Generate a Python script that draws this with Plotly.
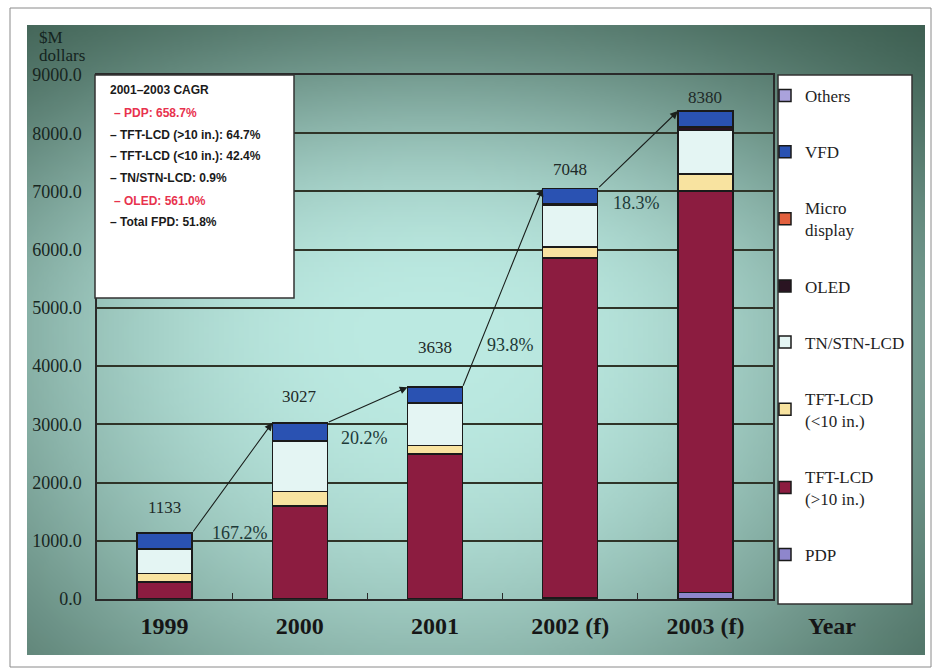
import zlib
import struct
import base64
import numpy as np
import plotly.graph_objects as go

# ---------------- data ----------------
years = ["1999", "2000", "2001", "2002 (f)", "2003 (f)"]
pdp = [0, 0, 2, 15, 110]
tft_large = [290, 1600, 2490, 5840, 6900]
tft_small = [150, 250, 145, 190, 290]
tn_stn = [420, 860, 730, 720, 743]
oled = [0, 0, 3, 30, 60]
micro = [0, 0, 0, 0, 0]
vfd = [273, 317, 268, 253, 277]
others = [0, 0, 0, 0, 0]
totals = [1133, 3027, 3638, 7048, 8380]
growth = ["167.2%", "20.2%", "93.8%", "18.3%"]
cagr_title = "2001–2003 CAGR"
cagr_lines = [
    "– PDP: 658.7%",
    "– TFT-LCD (&gt;10 in.): 64.7%",
    "– TFT-LCD (&lt;10 in.): 42.4%",
    "– TN/STN-LCD: 0.9%",
    "– OLED: 561.0%",
    "– Total FPD: 51.8%",
]
cagr_highlight = [True, False, False, False, True, False]

# ---------------- geometry helpers (pixel -> paper) ----------------
W, H = 938, 672
L, R, T, B = 97, 773, 75, 599


def px(x):
    return (x - L) / (R - L)


def py(y):
    return (B - y) / (B - T)


# ---------------- background gradient image ----------------
def png_data_uri(rgb):
    h, w, _ = rgb.shape
    raw = b"".join(b"\x00" + rgb[r].tobytes() for r in range(h))

    def chunk(tag, data):
        c = struct.pack(">I", len(data)) + tag + data
        return c + struct.pack(">I", zlib.crc32(tag + data) & 0xFFFFFFFF)

    png = (b"\x89PNG\r\n\x1a\n"
           + chunk(b"IHDR", struct.pack(">IIBBBBB", w, h, 8, 2, 0, 0, 0))
           + chunk(b"IDAT", zlib.compress(raw, 9))
           + chunk(b"IEND", b""))
    return "data:image/png;base64," + base64.b64encode(png).decode()


PX0, PY0, PX1, PY1 = 27, 25, 925, 655
gw, gh = 180, 126
xs = PX0 + (np.arange(gw) + 0.5) * (PX1 - PX0) / gw
ys = PY0 + (np.arange(gh) + 0.5) * (PY1 - PY0) / gh
XX, YY = np.meshgrid(xs, ys)
ry = np.where(YY < 330, 290, 470)
r2 = ((XX - 430) / 540) ** 2 + ((YY - 330) / ry) ** 2
t = np.exp(-(r2 ** 1.3))
dark = np.array([50, 82, 68], dtype=float)
light = np.array([188, 234, 226], dtype=float)
img = dark[None, None, :] + t[..., None] * (light - dark)[None, None, :]
img = np.clip(img, 0, 255).astype(np.uint8)
bg_uri = png_data_uri(img)

# ---------------- traces ----------------
series = [
    ("PDP", pdp, "#8e86cc"),
    ("TFT-LCD<br>(&gt;10 in.)", tft_large, "#8c1c40"),
    ("TFT-LCD<br>(&lt;10 in.)", tft_small, "#f8e3a0"),
    ("TN/STN-LCD", tn_stn, "#e4f5f3"),
    ("OLED", oled, "#2a1422"),
    ("Micro<br>display", micro, "#e2603e"),
    ("VFD", vfd, "#2a52b2"),
    ("Others", others, "#aaa2dc"),
]

fig = go.Figure()
n = len(series)
for i, (name, vals, col) in enumerate(series):
    fig.add_trace(go.Bar(
        x=years, y=vals, name=name, legendgroup=f"g{i}", legendrank=n - i,
        marker=dict(color=col, line=dict(color="#1a1a1a", width=1.5)),
    ))

bargap = 0.593
hw = (1 - bargap) / 2

annotations = []
# total labels
label_shift = [26, 26, 40, 19, 14]
for i, tot in enumerate(totals):
    annotations.append(dict(
        x=i, y=tot, xref="x", yref="y", text=str(tot), showarrow=False,
        yshift=label_shift[i], yanchor="middle",
        font=dict(family="Liberation Serif", size=17, color="#1e2a28"),
    ))
# growth arrows
for i in range(len(totals) - 1):
    annotations.append(dict(
        x=i + 1 - hw, y=totals[i + 1], xref="x", yref="y",
        ax=i + hw, ay=totals[i], axref="x", ayref="y",
        text="", showarrow=True, arrowhead=2, arrowsize=1.4,
        arrowwidth=1.1, arrowcolor="#1a1f1c", standoff=0,
    ))
# growth labels
growth_pos = [(0.558, 1134), (1.482, 2765), (2.555, 4363), (3.487, 6802)]
for g, (gx, gy) in zip(growth, growth_pos):
    annotations.append(dict(
        x=gx, y=gy, xref="x", yref="y", text=g, showarrow=False,
        font=dict(family="Liberation Serif", size=18, color="#1d3a38"),
    ))
# CAGR box text
cagr_y = [113, 135, 156, 178, 201, 222]
annotations.append(dict(
    x=px(108), y=py(90), xref="paper", yref="paper", text=cagr_title,
    showarrow=False, xanchor="left", yanchor="middle",
    font=dict(family="Liberation Sans", size=12, color="#1a1a1a", weight="bold"),
))
for line, yy, hi in zip(cagr_lines, cagr_y, cagr_highlight):
    annotations.append(dict(
        x=px(112 if hi else 108), y=py(yy), xref="paper", yref="paper", text=line,
        showarrow=False, xanchor="left", yanchor="middle",
        font=dict(family="Liberation Sans", size=12,
                  color="#e8324e" if hi else "#1a1a1a", weight="bold"),
    ))
# y-axis unit label
annotations.append(dict(
    x=px(37), y=py(38), xref="paper", yref="paper", text="$M", showarrow=False,
    xanchor="left", yanchor="middle",
    font=dict(family="Liberation Serif", size=17, color="#142420"),
))
annotations.append(dict(
    x=px(37), y=py(56), xref="paper", yref="paper", text="dollars", showarrow=False,
    xanchor="left", yanchor="middle",
    font=dict(family="Liberation Serif", size=17, color="#142420"),
))
# x-axis title
annotations.append(dict(
    x=px(832), y=py(626), xref="paper", yref="paper", text="Year", showarrow=False,
    xanchor="center", yanchor="middle",
    font=dict(family="Liberation Serif", size=24, color="#161616", weight="bold"),
))

shapes = [
    # outer frame
    dict(type="rect", xref="paper", yref="paper", x0=px(10), x1=px(931),
         y0=py(667), y1=py(8), line=dict(color="#8a8a8a", width=1), layer="below"),
    # CAGR box
    dict(type="rect", xref="paper", yref="paper", x0=px(95), x1=px(294),
         y0=py(298), y1=py(75), fillcolor="white",
         line=dict(color="#333333", width=1.5), layer="above"),
    # legend box
    dict(type="rect", xref="paper", yref="paper", x0=px(778), x1=px(912),
         y0=py(604), y1=py(75), fillcolor="white",
         line=dict(color="#333333", width=1.5), layer="above"),
]

fig.update_layout(
    width=W, height=H,
    margin=dict(l=L, r=W - R, t=T, b=H - B, pad=0),
    barmode="stack", bargap=bargap,
    paper_bgcolor="white", plot_bgcolor="rgba(0,0,0,0)",
    showlegend=True,
    legend=dict(
        x=px(765), y=py(78), xanchor="left", yanchor="top",
        bgcolor="rgba(0,0,0,0)", borderwidth=0,
        traceorder="grouped", tracegroupgap=31,
        font=dict(family="Liberation Serif", size=17, color="#1e1e1e"),
        itemwidth=30,
    ),
    annotations=annotations,
    shapes=shapes,
    images=[dict(
        source=bg_uri, xref="paper", yref="paper",
        x=px(PX0), y=py(PY0), sizex=px(PX1) - px(PX0), sizey=py(PY0) - py(PY1),
        xanchor="left", yanchor="top", sizing="stretch", layer="below",
    )],
    xaxis=dict(
        type="category", range=[-0.5, 4.5],
        showline=True, mirror=True, linecolor="#2a2a2a", linewidth=1.5,
        ticks="inside", tickson="boundaries", ticklen=6, tickcolor="#2a2a2a",
        showgrid=False, ticklabelstandoff=4,
        tickfont=dict(family="Liberation Serif", size=24, color="#161616", weight="bold"),
    ),
    yaxis=dict(
        range=[0, 9000], tickmode="linear", tick0=0, dtick=1000, tickformat=".1f",
        showline=True, mirror=True, linecolor="#2a2a2a", linewidth=1.5,
        showgrid=True, gridcolor="#2f3428", gridwidth=1.5, zeroline=False,
        ticks="", ticklabelstandoff=10,
        tickfont=dict(family="Liberation Serif", size=18, color="#18261f"),
    ),
)

fig.write_html("out.html")
